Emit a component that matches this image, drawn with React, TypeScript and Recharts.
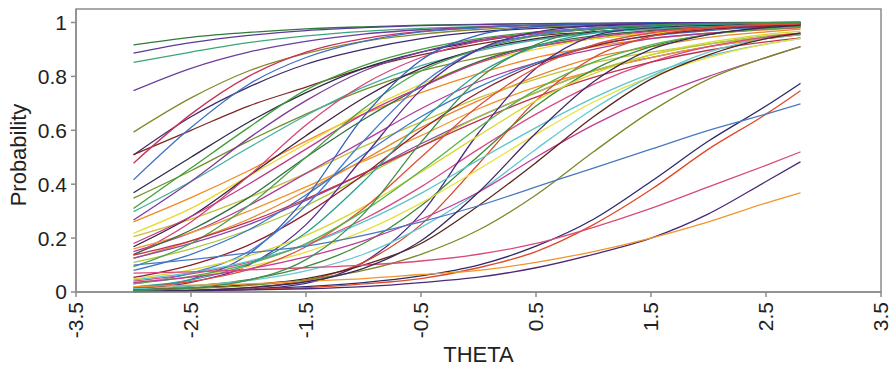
import React from 'react';
import { LineChart, Line, XAxis, YAxis, ReferenceArea } from 'recharts';

// theta grid the curves were read at
const THETA = [-3, -2.5, -2, -1.5, -1, -0.5, 0, 0.5, 1, 1.5, 2, 2.5, 2.8];

const X_TICKS = [-3.5, -2.5, -1.5, -0.5, 0.5, 1.5, 2.5, 3.5];
const Y_TICKS = [0, 0.2, 0.4, 0.6, 0.8, 1];

// item characteristic curves, probability at each THETA point
const item01 = [0.917, 0.945, 0.963, 0.976, 0.984, 0.99, 0.993, 0.996, 0.997, 0.998, 0.999, 0.999, 0.999];
const item02 = [0.886, 0.925, 0.952, 0.97, 0.981, 0.988, 0.992, 0.995, 0.997, 0.998, 0.999, 0.999, 0.999];
const item03 = [0.852, 0.89, 0.925, 0.95, 0.967, 0.978, 0.985, 0.99, 0.994, 0.996, 0.997, 0.998, 0.998];
const item04 = [0.747, 0.83, 0.89, 0.93, 0.957, 0.973, 0.983, 0.99, 0.994, 0.996, 0.998, 0.999, 0.999];
const item05 = [0.593, 0.72, 0.82, 0.885, 0.93, 0.957, 0.974, 0.984, 0.99, 0.994, 0.996, 0.998, 0.998];
const item06 = [0.508, 0.65, 0.76, 0.845, 0.9, 0.94, 0.965, 0.978, 0.987, 0.992, 0.995, 0.997, 0.998];
const item07 = [0.51, 0.6, 0.69, 0.76, 0.83, 0.88, 0.92, 0.95, 0.965, 0.975, 0.985, 0.99, 0.992];
const item08 = [0.478, 0.66, 0.8, 0.89, 0.94, 0.967, 0.982, 0.99, 0.995, 0.997, 0.998, 0.999, 0.999];
const item09 = [0.416, 0.61, 0.77, 0.87, 0.93, 0.965, 0.98, 0.99, 0.995, 0.997, 0.999, 0.999, 1];
const item10 = [0.368, 0.5, 0.63, 0.74, 0.83, 0.89, 0.93, 0.96, 0.975, 0.985, 0.99, 0.994, 0.995];
const item11 = [0.348, 0.45, 0.56, 0.66, 0.75, 0.82, 0.87, 0.91, 0.94, 0.96, 0.975, 0.983, 0.987];
const item12 = [0.31, 0.46, 0.61, 0.75, 0.84, 0.9, 0.94, 0.965, 0.98, 0.988, 0.993, 0.996, 0.997];
const item13 = [0.298, 0.41, 0.535, 0.655, 0.76, 0.84, 0.895, 0.935, 0.96, 0.975, 0.985, 0.99, 0.993];
const item14 = [0.26, 0.35, 0.45, 0.56, 0.66, 0.74, 0.81, 0.87, 0.91, 0.94, 0.96, 0.973, 0.98];
const item15 = [0.125, 0.19, 0.27, 0.375, 0.49, 0.61, 0.71, 0.8, 0.87, 0.91, 0.945, 0.965, 0.975];
const item16 = [0.267, 0.41, 0.57, 0.71, 0.82, 0.89, 0.935, 0.96, 0.977, 0.987, 0.993, 0.996, 0.997];
const item17 = [0.218, 0.31, 0.43, 0.55, 0.67, 0.77, 0.85, 0.9, 0.94, 0.96, 0.975, 0.985, 0.99];
const item18 = [0.205, 0.27, 0.35, 0.44, 0.54, 0.63, 0.72, 0.79, 0.85, 0.89, 0.92, 0.945, 0.955];
const item19 = [0.168, 0.28, 0.43, 0.58, 0.72, 0.83, 0.9, 0.94, 0.965, 0.98, 0.99, 0.994, 0.996];
const item20 = [0.15, 0.22, 0.32, 0.44, 0.56, 0.68, 0.78, 0.85, 0.9, 0.94, 0.96, 0.975, 0.982];
const item21 = [0.137, 0.26, 0.43, 0.62, 0.77, 0.87, 0.93, 0.96, 0.98, 0.99, 0.995, 0.997, 0.998];
const item22 = [0.126, 0.18, 0.25, 0.34, 0.44, 0.55, 0.65, 0.74, 0.82, 0.87, 0.91, 0.94, 0.955];
const item23 = [0.16, 0.22, 0.3, 0.39, 0.485, 0.58, 0.68, 0.76, 0.82, 0.87, 0.91, 0.94, 0.955];
const item24 = [0.14, 0.23, 0.35, 0.5, 0.64, 0.76, 0.855, 0.915, 0.95, 0.97, 0.983, 0.99, 0.993];
const item25 = [0.18, 0.28, 0.4, 0.53, 0.66, 0.76, 0.85, 0.91, 0.945, 0.967, 0.98, 0.988, 0.992];
const item26 = [0.11, 0.16, 0.23, 0.32, 0.43, 0.54, 0.65, 0.74, 0.82, 0.88, 0.92, 0.95, 0.96];
const item27 = [0.094, 0.18, 0.32, 0.5, 0.68, 0.82, 0.9, 0.95, 0.977, 0.99, 0.995, 0.997, 0.998];
const item28 = [0.08, 0.14, 0.23, 0.36, 0.51, 0.65, 0.76, 0.85, 0.915, 0.95, 0.97, 0.983, 0.988];
const item29 = [0.054, 0.1, 0.174, 0.29, 0.435, 0.6, 0.74, 0.844, 0.912, 0.952, 0.974, 0.986, 0.991];
const item30 = [0.04, 0.067, 0.11, 0.176, 0.27, 0.39, 0.53, 0.66, 0.77, 0.853, 0.91, 0.946, 0.96];
const item31 = [0.137, 0.19, 0.26, 0.345, 0.44, 0.54, 0.636, 0.723, 0.796, 0.853, 0.897, 0.928, 0.943];
const item32 = [0.015, 0.047, 0.14, 0.35, 0.65, 0.86, 0.953, 0.985, 0.995, 0.998, 0.999, 1, 1];
const item33 = [0.03, 0.07, 0.15, 0.32, 0.56, 0.77, 0.9, 0.955, 0.98, 0.992, 0.997, 0.999, 0.999];
const item34 = [0.012, 0.036, 0.1, 0.25, 0.5, 0.75, 0.9, 0.964, 0.988, 0.996, 0.999, 0.999, 1];
const item35 = [0.001, 0.003, 0.01, 0.032, 0.11, 0.29, 0.59, 0.83, 0.95, 0.984, 0.995, 0.999, 1];
const item36 = [0.002, 0.006, 0.016, 0.043, 0.11, 0.25, 0.475, 0.71, 0.87, 0.948, 0.98, 0.993, 0.996];
const item37 = [0.01, 0.022, 0.046, 0.094, 0.18, 0.32, 0.505, 0.69, 0.825, 0.91, 0.956, 0.979, 0.987];
const item38 = [0.045, 0.072, 0.114, 0.175, 0.26, 0.366, 0.49, 0.61, 0.72, 0.81, 0.875, 0.92, 0.94];
const item39 = [0.035, 0.057, 0.094, 0.148, 0.226, 0.33, 0.455, 0.585, 0.705, 0.8, 0.87, 0.92, 0.94];
const item40 = [0.012, 0.023, 0.042, 0.078, 0.14, 0.24, 0.37, 0.53, 0.68, 0.8, 0.89, 0.94, 0.957];
const item41 = [0.049, 0.082, 0.134, 0.21, 0.316, 0.445, 0.58, 0.71, 0.81, 0.88, 0.926, 0.956, 0.968];
const item42 = [0.018, 0.039, 0.083, 0.168, 0.31, 0.5, 0.69, 0.832, 0.917, 0.961, 0.982, 0.992, 0.995];
const item43 = [0.031, 0.058, 0.104, 0.18, 0.3, 0.45, 0.61, 0.75, 0.853, 0.917, 0.955, 0.976, 0.984];
const item44 = [0.019, 0.045, 0.103, 0.22, 0.41, 0.63, 0.81, 0.91, 0.962, 0.984, 0.993, 0.997, 0.998];
const item45 = [0.035, 0.055, 0.085, 0.13, 0.19, 0.27, 0.37, 0.5, 0.62, 0.72, 0.8, 0.87, 0.91];
const item46 = [0.007, 0.015, 0.027, 0.05, 0.1, 0.18, 0.32, 0.48, 0.65, 0.79, 0.88, 0.94, 0.96];
const item47 = [0.007, 0.013, 0.024, 0.045, 0.08, 0.14, 0.23, 0.36, 0.52, 0.67, 0.79, 0.87, 0.91];
const item48 = [0.004, 0.006, 0.011, 0.02, 0.035, 0.06, 0.1, 0.17, 0.27, 0.41, 0.56, 0.69, 0.774];
const item49 = [0.003, 0.005, 0.009, 0.016, 0.03, 0.05, 0.09, 0.15, 0.25, 0.38, 0.53, 0.66, 0.747];
const item50 = [0.1, 0.12, 0.145, 0.17, 0.21, 0.26, 0.32, 0.39, 0.46, 0.53, 0.6, 0.66, 0.698];
const item51 = [0.07, 0.075, 0.082, 0.09, 0.1, 0.115, 0.14, 0.18, 0.24, 0.31, 0.39, 0.47, 0.52];
const item52 = [0.003, 0.005, 0.008, 0.012, 0.02, 0.035, 0.055, 0.09, 0.14, 0.2, 0.29, 0.41, 0.483];
const item53 = [0.02, 0.025, 0.03, 0.04, 0.05, 0.065, 0.08, 0.11, 0.15, 0.2, 0.26, 0.33, 0.368];
const item54 = [0.003, 0.006, 0.016, 0.038, 0.088, 0.19, 0.37, 0.59, 0.78, 0.9, 0.955, 0.981, 0.989];
const item55 = [0.005, 0.015, 0.044, 0.12, 0.29, 0.555, 0.79, 0.918, 0.971, 0.99, 0.997, 0.999, 0.999];

const ITEMS = [
  item01, item02, item03, item04, item05, item06, item07, item08, item09, item10,
  item11, item12, item13, item14, item15, item16, item17, item18, item19, item20,
  item21, item22, item23, item24, item25, item26, item27, item28, item29, item30,
  item31, item32, item33, item34, item35, item36, item37, item38, item39, item40,
  item41, item42, item43, item44, item45, item46, item47, item48, item49, item50,
  item51, item52, item53, item54, item55,
];

const COLORS = [
  '#2f7a3a', '#5a3c96', '#3aa57a', '#6b3fa0', '#86862a', '#3c2a6e', '#7a2a22', '#c8325a', '#3f6fc0', '#2b2b4a',
  '#6f8f2a', '#3f9f3a', '#44b0a0', '#f08a24', '#e8862a', '#7d3c98', '#e8d92a', '#c2c23a', '#3a1f3f', '#b03a9a',
  '#d6407a', '#8a4aa8', '#f0962e', '#2e6e3e', '#c23a8a', '#a8c83a', '#4aa04a', '#3a78c8', '#8a2030', '#d84a86',
  '#c0304a', '#3060b8', '#4a7ad0', '#5a2c8a', '#4b2a86', '#d8452a', '#3d8a3a', '#5ac4c8', '#e8e040', '#64c8d0',
  '#d8d830', '#e0503a', '#58b048', '#2aa090', '#c03c96', '#5a2418', '#7a8a28', '#2a2a6a', '#e04a28', '#4a78c0',
  '#d84a7a', '#4a2a78', '#f0962a', '#3a2a5a', '#3f8f4f',
];

const data = THETA.map((t, i) => {
  const row: Record<string, number> = { theta: t };
  ITEMS.forEach((vals, k) => {
    row[`i${k}`] = vals[i];
  });
  return row;
});

const FONT = '"Liberation Sans", Arial, sans-serif';
const GRAY = '#8c8c8c';
const INK = '#222';

function ThetaTick({ x, y, payload }: any) {
  return (
    <text
      x={x}
      y={y}
      transform={`rotate(-90 ${x} ${y})`}
      textAnchor="end"
      dy="0.35em"
      fontSize={21}
      fontFamily={FONT}
      fill={INK}
    >
      {String(payload.value)}
    </text>
  );
}

// y title drawn by hand so it sits where the reference has it
function ProbabilityLabel() {
  return (
    <text
      x={18}
      y={155}
      transform="rotate(-90 18 155)"
      textAnchor="middle"
      dy="0.36em"
      fontSize={22}
      fontFamily={FONT}
      fill={INK}
    >
      Probability
    </text>
  );
}

export default function App() {
  return (
    <div style={{ position: 'absolute', left: 0, top: 0, width: 891, height: 368, background: '#fff' }}>
      <LineChart width={891} height={368} data={data} margin={{ top: 9, right: 10, left: 0, bottom: 0 }}>
        <ReferenceArea x1={-3.5} x2={3.5} y1={0} y2={1.05} fill="none" stroke={GRAY} strokeWidth={1.5} />
        <XAxis
          dataKey="theta"
          type="number"
          domain={[-3.5, 3.5]}
          ticks={X_TICKS}
          height={76}
          tickSize={5}
          tickMargin={5}
          stroke={GRAY}
          strokeWidth={1.5}
          tick={<ThetaTick />}
          interval={0}
          label={{ value: 'THETA', position: 'insideBottom', offset: 6, fontSize: 22, fill: INK, fontFamily: FONT }}
        />
        <YAxis
          type="number"
          domain={[0, 1.05]}
          ticks={Y_TICKS}
          width={76}
          tickSize={5}
          tickMargin={4}
          stroke={GRAY}
          strokeWidth={1.5}
          tick={{ fontSize: 21, fill: INK, fontFamily: FONT }}
          tickFormatter={(v) => String(v)}
          label={{ content: () => <ProbabilityLabel /> }}
        />
        {ITEMS.map((_, k) => (
          <Line
            key={k}
            type="monotone"
            dataKey={`i${k}`}
            stroke={COLORS[k]}
            strokeWidth={1.3}
            dot={false}
            activeDot={false}
            isAnimationActive={false}
          />
        ))}
      </LineChart>
    </div>
  );
}
